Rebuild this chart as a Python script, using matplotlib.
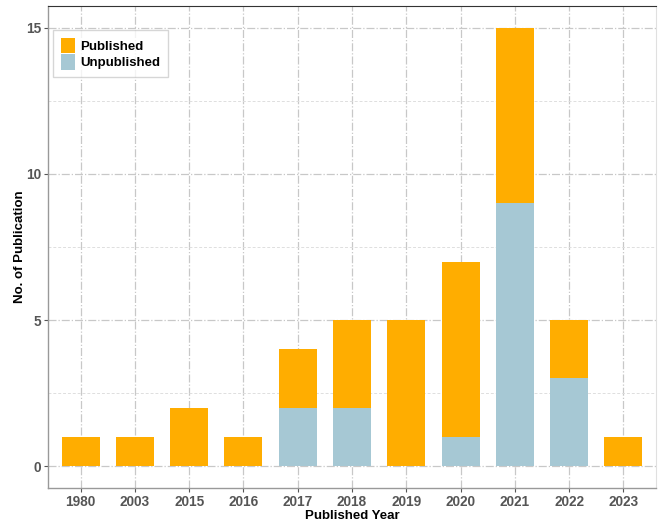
import matplotlib.pyplot as plt
import numpy as np

plt.rcParams["font.family"] = ["Liberation Sans", "DejaVu Sans"]

# data
years = ["1980", "2003", "2015", "2016", "2017", "2018", "2019", "2020", "2021", "2022", "2023"]
unpublished = [0, 0, 0, 0, 2, 2, 0, 1, 9, 3, 0]
published = [1, 1, 2, 1, 2, 3, 5, 6, 6, 2, 1]

orange = "#FFAD00"
blue = "#A6C8D4"

fig = plt.figure(figsize=(6.62, 5.21), dpi=100)
ax = fig.add_axes([48 / 662, 1 - 488 / 521, (656 - 48) / 662, (488 - 6) / 521])

x = np.arange(len(years))
ax.bar(x, unpublished, width=0.7, color=blue, label="Unpublished", zorder=3)
ax.bar(x, published, width=0.7, bottom=unpublished, color=orange, label="Published", zorder=3)

ax.set_xlim(-0.6, len(years) - 0.4)
ax.set_ylim(-0.75, 15.75)
ax.set_xticks(x)
ax.set_xticklabels(years)
ax.set_yticks([0, 5, 10, 15])
ax.set_yticks([2.5, 7.5, 12.5], minor=True)

# grid lines
ax.grid(True, which="major", color="#c8c8c8", linestyle="-.", linewidth=0.9, zorder=0)
ax.grid(True, which="minor", axis="y", color="#dedede", linestyle=(0, (3, 2)), linewidth=0.7, zorder=0)
ax.tick_params(which="minor", length=0)
ax.tick_params(which="major", length=3, color="#555555", width=0.8, pad=2)

for lbl in ax.get_xticklabels() + ax.get_yticklabels():
    lbl.set_fontweight("bold")
    lbl.set_color("#555555")
    lbl.set_fontsize(9.8)

for side in ["left", "bottom"]:
    ax.spines[side].set_color("#999999")
    ax.spines[side].set_linewidth(1.0)
ax.spines["top"].set_color("#333333")
ax.spines["right"].set_color("#e0e0e0")

ax.set_xlabel("Published Year", fontweight="bold", fontsize=9.5, labelpad=1)
ax.set_ylabel("No. of Publication", fontweight="bold", fontsize=9.5, labelpad=0)

handles, labels = ax.get_legend_handles_labels()
leg = ax.legend(handles[::-1], labels[::-1], loc="upper left", bbox_to_anchor=(0.008, 0.95),
                prop={"weight": "bold", "size": 9.5}, frameon=True, fancybox=False,
                handlelength=1.1, handleheight=1.4, handletextpad=0.4, borderpad=0.6,
                labelspacing=0.08, borderaxespad=0)
leg.get_frame().set_edgecolor("#cccccc")
leg.get_frame().set_linewidth(1.0)

fig.savefig("out.png", dpi=100)
